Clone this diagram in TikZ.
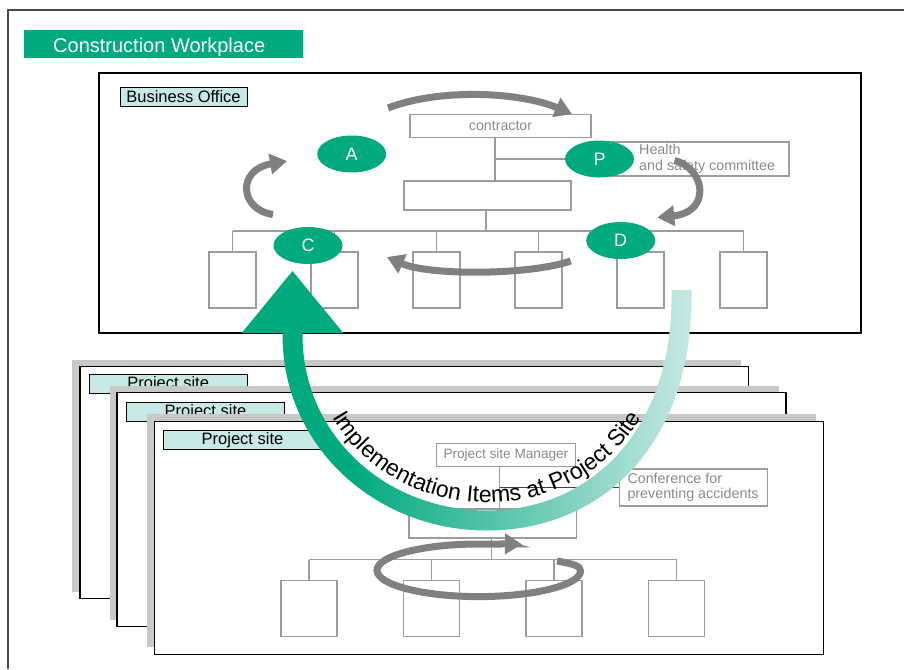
\documentclass[tikz,border=0pt]{standalone}
\usepackage{fontspec}
\setmainfont{Liberation Sans}
\usetikzlibrary{arrows.meta,shapes.geometric,decorations.text}
\definecolor{bgreen}{HTML}{00A97E}
\definecolor{blight}{HTML}{C8E8E5}
\definecolor{boxgray}{HTML}{9C9C9C}
\definecolor{txtgray}{HTML}{8A8A8A}
\definecolor{arrowgray}{HTML}{808080}
\definecolor{shadowgray}{HTML}{C8C8C8}
\definecolor{framegray}{HTML}{4A4A4A}
\pgfdeclarehorizontalshading{bandshade}{100bp}{color(0bp)=(bgreen); color(33bp)=(bgreen); color(75bp)=(blight); color(100bp)=(blight)}
\newcommand\pxfont[1]{\fontsize{#1}{#1}\selectfont}
\newcommand\arcfont{\fontsize{23}{23}\selectfont}
\begin{document}
\begin{tikzpicture}[x=1pt,y=-1pt,
  gbox/.style={draw=boxgray, line width=1.1pt, inner sep=0pt, text=txtgray, font=\pxfont{14.2}},
  gline/.style={draw=boxgray, line width=1.1pt},
  dline/.style={draw=black!75, line width=1.1pt},
  lbl/.style={draw=black, fill=blight, line width=0.9pt, inner sep=0pt, font=\pxfont{16.5}},
  ell/.style={ellipse, fill=bgreen, minimum width=69pt, minimum height=37pt, inner sep=0pt, text=white, font=\pxfont{18}},
  garrow/.style={draw=arrowgray, line width=7pt, -{Triangle[length=17pt,width=20pt]}},
  frame/.style={draw=black, fill=white, line width=1.2pt},
  shadowbox/.style={fill=shadowgray}]
\useasboundingbox (0,0) rectangle (904,669);

% outer frame
\draw[framegray, line width=1.5pt] (8,669) -- (8,10) -- (904,10);

% header
\node[fill=bgreen, minimum width=279pt, minimum height=28pt, inner sep=0pt, anchor=north west] (hdr) at (24,30) {};
\node[anchor=base west, inner sep=0pt, text=white, font=\pxfont{20}] (hdrtext) at (53,52.3) {Construction Workplace};

% business office
\draw[frame] (99,73) rectangle (861,333);
\node[lbl, minimum width=127pt, minimum height=19.7pt] (bolabel) at (183.5,96.8) {Business Office};

\node[gbox, minimum width=181pt, minimum height=23pt] (contractor) at (500.5,126) {contractor};
\node[gbox, minimum width=167pt, minimum height=29pt] (bo2) at (487.5,195.5) {};
\node[gbox, minimum width=177pt, minimum height=34pt] (hsbox) at (700.5,159) {};
\node[anchor=west, inner sep=0pt, align=left, text=txtgray, font=\fontsize{14.3}{16}\selectfont] (hstext) at (639,159) {Health\\and safety committee};
\foreach \i/\x in {1/232.5,2/334.5,3/436.5,4/538.5,5/640.5,6/743.5}
  \node[gbox, minimum width=47pt, minimum height=56pt] (b\i) at (\x,280) {};

\coordinate (cv) at (495,159);
\draw[gline] (contractor.south -| cv) -- (bo2.north -| cv);
\draw[gline] (cv) -- (hsbox.west |- cv);
\coordinate (bv) at (486,231);
\draw[gline] (bo2.south -| bv) -- (bv);
\draw[gline] (b1.north |- bv) -- (b6.north |- bv);
\foreach \i in {1,...,6} \draw[gline] (b\i.north |- bv) -- (b\i.north);

% cycle arrows
\draw[garrow] (388,108) .. controls (440,88) and (520,92) .. (572,114);
\draw[garrow] (273,214.5) .. controls (240,210) and (236,170) .. (287,161);
\draw[garrow] (674.5,160.5) .. controls (705,168) and (712,212) .. (657.3,217.5);
\draw[garrow] (570.7,261) .. controls (530,275) and (430,276) .. (387,257);

\node[ell] (A) at (351.7,154) {A};
\node[ell] (P) at (599.5,159) {P};
\node[ell] (C) at (308,245.5) {C};
\node[ell] (D) at (620.7,240.5) {D};

% project sites
\fill[shadowbox] (72,360) rectangle (740.7,591.7);
\draw[frame] (80,366.7) rectangle (748.7,598.3);
\node[lbl, minimum width=158pt, minimum height=19pt] (ps1) at (168.2,384.3) {Project site};
\fill[shadowbox] (110,386) rectangle (779,620);
\draw[frame] (117,392.7) rectangle (786,626.7);
\node[lbl, minimum width=158pt, minimum height=19pt] (ps2) at (205.5,412.3) {Project site};
\fill[shadowbox] (147.3,414.3) rectangle (816.3,647.3);
\draw[frame] (154.3,421.7) rectangle (823.3,654.3);
\node[lbl, minimum width=158pt, minimum height=19pt] (ps3) at (242.5,440.3) {Project site};

\node[gbox, minimum width=139.7pt, minimum height=23.3pt, font=\pxfont{13.6}] (mgr) at (505.9,454.7) {Project site Manager};
\node[gbox, minimum width=167.5pt, minimum height=29pt] (pbox) at (492.7,523.5) {};
\node[gbox, minimum width=148pt, minimum height=37pt] (conf) at (693.3,487.5) {};
\node[anchor=west, inner sep=0pt, align=left, text=txtgray, font=\fontsize{14.3}{15}\selectfont] (conftext) at (627.3,487.8) {Conference for\\preventing accidents};
\coordinate (mv) at (499.7,487.3);
\draw[gline] (mgr.south -| mv) -- (pbox.north -| mv);
\draw[dline] (mv) -- (conf.west |- mv);
\foreach \i/\x in {1/309,2/431.5,3/554,4/676.5}
  \node[gbox, minimum width=56pt, minimum height=56pt] (q\i) at (\x,608.7) {};
\coordinate (pv) at (491.7,559.5);
\draw[gline] (pbox.south -| pv) -- (pv);
\draw[gline] (q1.north |- pv) -- (q4.north |- pv);
\foreach \i in {1,...,4} \draw[gline] (q\i.north |- pv) -- (q\i.north);

% loop arrow
\draw[garrow] (557,561) .. controls (574,564) and (580.5,566) .. (580.5,571)
  .. controls (580.5,585) and (534,596.6) .. (478.5,596.6)
  .. controls (423,596.6) and (377,584.8) .. (377,570.3)
  .. controls (377,555.8) and (423,544) .. (478.5,544)
  .. controls (495,544) and (508,544) .. (522,544.3);

% big curved arrow
\shade[shading=bandshade] (282.5,333) .. controls (281.5,445.4) and (374.7,530.5) .. (487,530.5)
  .. controls (599.4,530.5) and (694.1,447.3) .. (691.5,289.8) -- (671.5,290.2)
  .. controls (673.9,432.7) and (588.7,510.5) .. (487,510.5)
  .. controls (385.3,510.5) and (301.5,434.7) .. (302.5,333) -- cycle;
\fill[bgreen] (241.7,333) -- (292.5,271) -- (343.3,333) -- cycle;

\path[decorate, decoration={text along path, text align=center,
  text={|\arcfont|Implementation Items at Project Site}}]
  (310.5,333) .. controls (309.5,430.2) and (389.8,502.5) .. (487,502.5)
  .. controls (584.2,502.5) and (664.5,430.2) .. (663.5,333);
\end{tikzpicture}
\end{document}
